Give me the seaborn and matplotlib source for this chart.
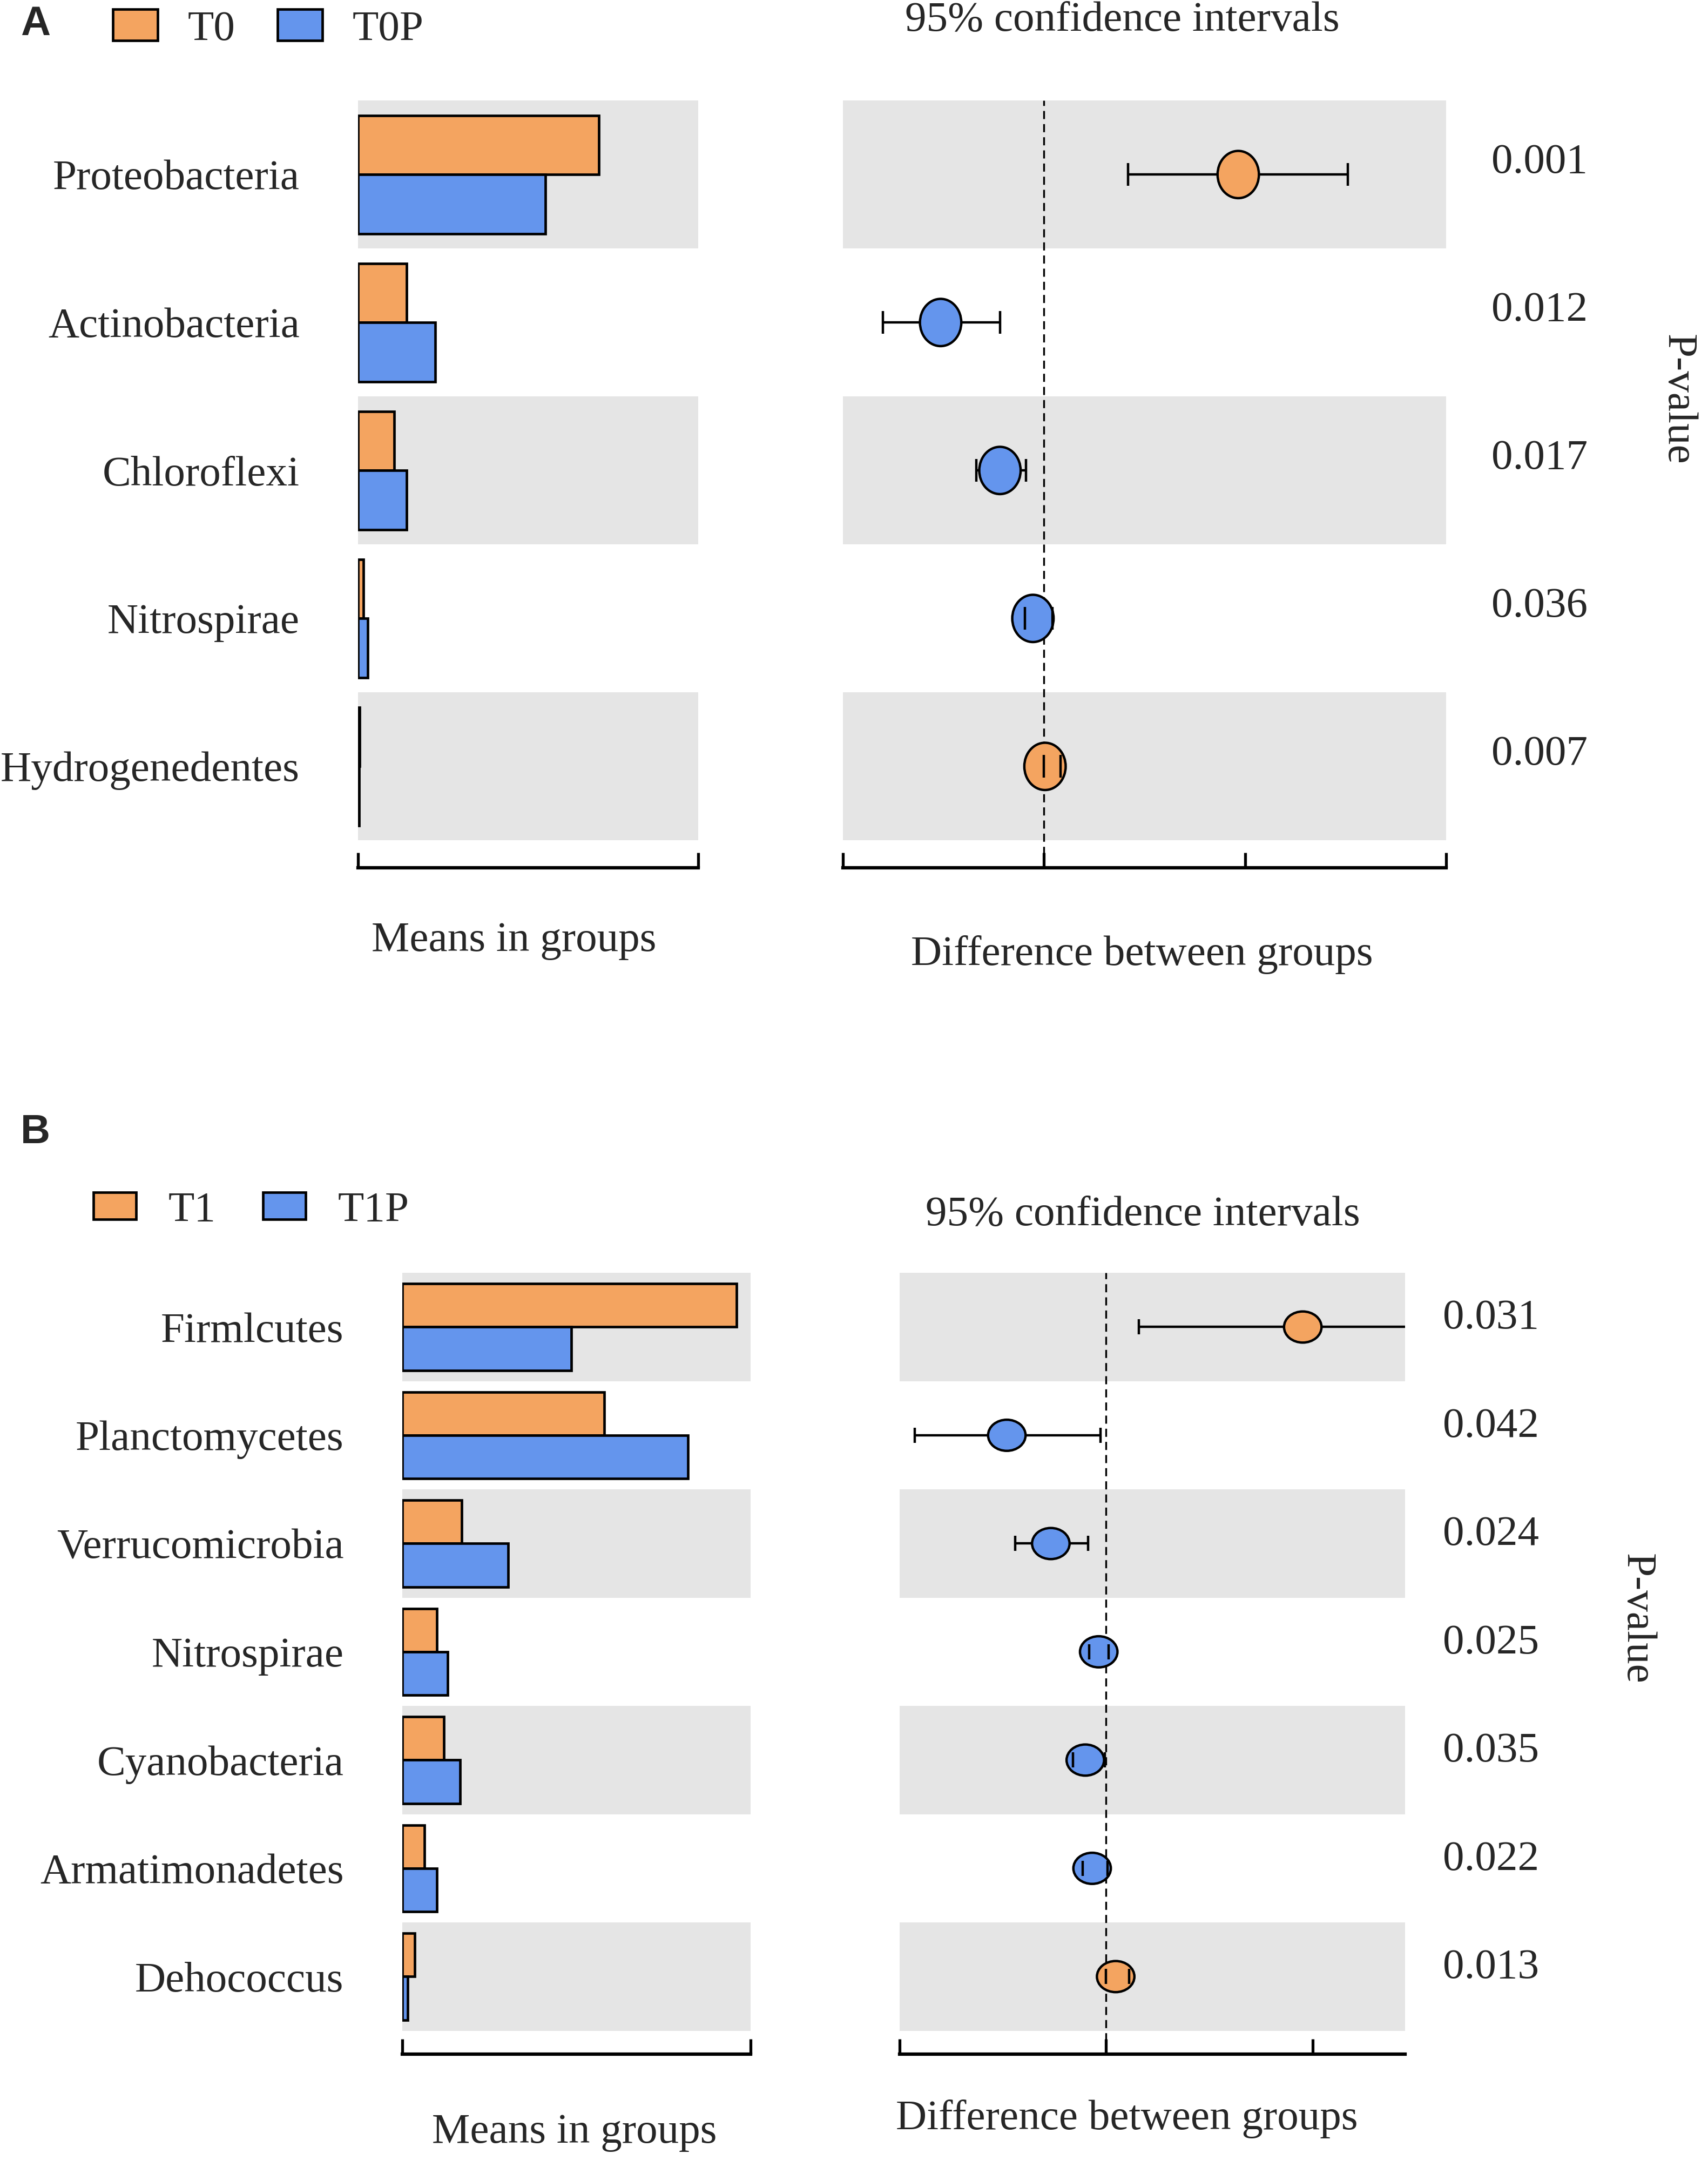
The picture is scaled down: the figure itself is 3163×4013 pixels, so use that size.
import numpy as np
import pandas as pd
import matplotlib
matplotlib.use('Agg')
import matplotlib.pyplot as plt
import seaborn as sns
from matplotlib.path import Path
from matplotlib.transforms import Affine2D, blended_transform_factory

# ---- panel A data ----
phyla_a = ['Proteobacteria', 'Actinobacteria', 'Chloroflexi', 'Nitrospirae', 'Hydrogenedentes']
groups_a = ['T0', 'T0P']
t0_mean = [35.4, 7.1, 5.3, 0.8, 0.2]
t0p_mean = [27.5, 11.3, 7.1, 1.4, 0.15]
diff_a = [0.0966, -0.0514, -0.0219, -0.0055, 0.0005]
low_a = [0.0418, -0.0800, -0.0336, -0.0096, 0.0]
high_a = [0.151, -0.0219, -0.0089, 0.0041, 0.0082]
pval_a = ['0.001', '0.012', '0.017', '0.036', '0.007']

# ---- panel B data ----
phyla_b = ['Firmlcutes', 'Planctomycetes', 'Verrucomicrobia', 'Nitrospirae',
           'Cyanobacteria', 'Armatimonadetes', 'Dehococcus']
groups_b = ['T1', 'T1P']
t1_mean = [24.0, 14.5, 4.25, 2.5, 3.0, 1.6, 0.9]
t1p_mean = [12.15, 20.5, 7.6, 3.25, 4.15, 2.5, 0.4]
diff_b = [0.0953, -0.048, -0.0267, -0.0035, -0.0100, -0.0067, 0.0047]
low_b = [0.016, -0.0927, -0.044, -0.0080, -0.0160, -0.0113, 0.0]
high_b = [0.16, -0.0027, -0.0087, 0.0013, -0.0005, 0.0007, 0.0113]
pval_b = ['0.031', '0.042', '0.024', '0.025', '0.035', '0.022', '0.013']

orange = '#F4A460'
blue = '#6495ED'
band = '#E5E5E5'
FS = 57

sns.set_style('white')
plt.rcParams['font.family'] = ['Liberation Serif', 'DejaVu Serif']

fig = plt.figure(figsize=(31.63, 40.13), dpi=100)


def shade_rows(ax, n):
    for i in range(0, n, 2):
        ax.axhspan(i - 0.5, i + 0.5, color=band, lw=0, zorder=0)


def style_bottom(ax):
    for s in ['top', 'right', 'left']:
        ax.spines[s].set_visible(False)
    ax.spines['bottom'].set_linewidth(4.5)
    ax.spines['bottom'].set_color('black')
    ax.tick_params(axis='x', bottom=True, direction='in', length=20, width=3.8,
                   color='black', labelbottom=False)
    ax.set_xlabel('')
    ax.set_ylabel('')


def draw_panel(phyla, groups, m1, m2, diff, lo, hi, pvals, bar_box, ci_box,
               bar_max, ci_lim, ci_ticks, pad, dot_s, dot_shape, cap, leg_xy, leg_kw):
    n = len(phyla)
    # means in groups
    ax = fig.add_axes(bar_box)
    df = pd.DataFrame({'phylum': phyla * 2, 'mean': m1 + m2,
                       'group': [groups[0]] * n + [groups[1]] * n})
    shade_rows(ax, n)
    sns.barplot(data=df, x='mean', y='phylum', hue='group', order=phyla, hue_order=groups,
                palette=[orange, blue], orient='h', width=0.8, saturation=1,
                edgecolor='black', linewidth=3.4, ax=ax)
    ax.set_xlim(0, bar_max)
    ax.set_ylim(n - 0.5 + pad, -0.5)
    ax.set_xticks([0, bar_max])
    style_bottom(ax)
    ax.tick_params(axis='y', left=False, length=0, pad=78, labelsize=FS)
    sns.move_legend(ax, loc='center left', bbox_to_anchor=leg_xy, bbox_transform=fig.transFigure,
                    ncol=2, frameon=False, title=None, fontsize=FS, borderpad=0,
                    borderaxespad=0, **leg_kw)

    # difference between groups
    ax2 = fig.add_axes(ci_box)
    ci = pd.DataFrame({'pos': np.arange(n), 'diff': diff, 'lo': lo, 'hi': hi})
    ci['sign'] = np.where(ci['diff'] > 0, groups[0], groups[1])
    shade_rows(ax2, n)
    ax2.axvline(0, color='black', ls=(0, (4.5, 2.8)), lw=2.4, zorder=1)
    eb = ax2.errorbar(ci['diff'], ci['pos'], xerr=[ci['diff'] - ci['lo'], ci['hi'] - ci['diff']],
                      fmt='none', ecolor='black', elinewidth=3.2, capsize=cap, capthick=3.2, zorder=2)
    for c in eb[1]:
        c.set_zorder(4)
    sns.scatterplot(data=ci, x='diff', y='pos', hue='sign', hue_order=groups,
                    palette=[orange, blue], s=dot_s, marker=dot_shape, edgecolor='black',
                    linewidth=3.2, legend=False, zorder=3, ax=ax2)
    ax2.set_xlim(*ci_lim)
    ax2.set_ylim(n - 0.5 + pad, -0.5)
    ax2.set_xticks(ci_ticks)
    ax2.set_yticks([])
    style_bottom(ax2)
    trans = blended_transform_factory(ax2.transAxes, ax2.transData)
    for i, p in enumerate(pvals):
        ax2.text(1.075, i - 0.08, p, transform=trans, ha='left', va='center', fontsize=FS)


ell_a = Path.unit_circle().transformed(Affine2D().scale(0.875, 1.0))
ell_b = Path.unit_circle().transformed(Affine2D().scale(1.0, 0.83))

draw_panel(phyla_a, groups_a, t0_mean, t0p_mean, diff_a, low_a, high_a, pval_a,
           bar_box=[0.2097, 0.5995, 0.1992, 0.3541], ci_box=[0.4935, 0.5995, 0.3532, 0.3541],
           bar_max=50, ci_lim=(-0.1, 0.2), ci_ticks=[-0.1, 0, 0.1, 0.2], pad=0.186,
           dot_s=3970, dot_shape=ell_a, cap=15,
           leg_xy=(0.066, 0.9866),
           leg_kw=dict(handlelength=1.05, handleheight=0.75, handletextpad=0.7, columnspacing=1.0))

draw_panel(phyla_b, groups_b, t1_mean, t1p_mean, diff_b, low_b, high_b, pval_b,
           bar_box=[0.2355, 0.0521, 0.2040, 0.3605], ci_box=[0.5266, 0.0521, 0.2960, 0.3605],
           bar_max=25, ci_lim=(-0.1, 0.1448), ci_ticks=[-0.1, 0, 0.1], pad=0.216,
           dot_s=2500, dot_shape=ell_b, cap=10,
           leg_xy=(0.0548, 0.4412),
           leg_kw=dict(handlelength=1.0, handleheight=0.6, handletextpad=0.75, columnspacing=1.1))

# panel letters
fig.text(0.012, 0.9886, 'A', family=['Liberation Sans', 'DejaVu Sans'], weight='bold',
         fontsize=55, ha='left', va='center')
fig.text(0.012, 0.4774, 'B', family=['Liberation Sans', 'DejaVu Sans'], weight='bold',
         fontsize=55, ha='left', va='center')

# axis titles
fig.text(0.657, 0.9905, '95% confidence intervals', fontsize=FS, ha='center', va='center')
fig.text(0.3008, 0.5658, 'Means in groups', fontsize=FS, ha='center', va='center')
fig.text(0.6685, 0.5594, 'Difference between groups', fontsize=FS, ha='center', va='center')
fig.text(0.982, 0.8156, 'P-value', fontsize=FS, ha='center', va='center', rotation=270)

fig.text(0.669, 0.4393, '95% confidence intervals', fontsize=FS, ha='center', va='center')
fig.text(0.3363, 0.0159, 'Means in groups', fontsize=FS, ha='center', va='center')
fig.text(0.6597, 0.0222, 'Difference between groups', fontsize=FS, ha='center', va='center')
fig.text(0.958, 0.2530, 'P-value', fontsize=FS, ha='center', va='center', rotation=270)

fig.savefig('out.png', dpi=100)
